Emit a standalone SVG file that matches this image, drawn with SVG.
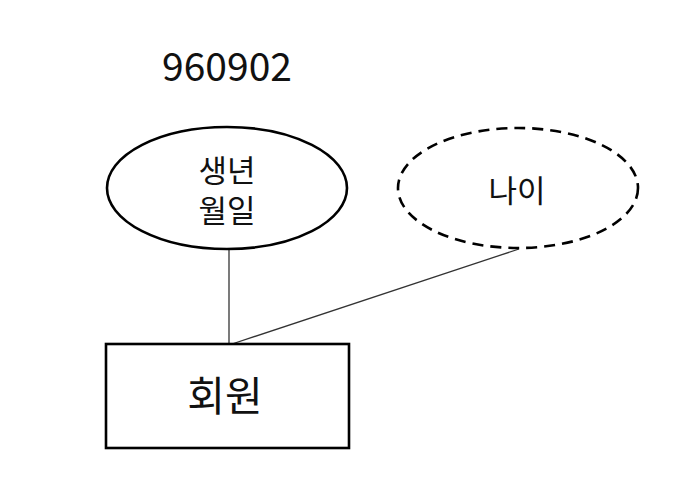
<svg xmlns="http://www.w3.org/2000/svg" width="673" height="479" viewBox="0 0 673 479">
<style>
text { font-family: "Noto Sans CJK KR", "Noto Sans", sans-serif; fill: #111; text-anchor: middle; font-weight: 400; }
.shape { fill: #fff; stroke: #000; stroke-width: 2.6; }
.dashed { stroke-dasharray: 11 7; }
.conn { stroke: #333; stroke-width: 1.3; fill: none; }
</style>
<rect width="673" height="479" fill="#fff"/>
<g id="connectors">
<line class="conn" x1="229" y1="249" x2="229" y2="344"/>
<line class="conn" x1="519" y1="249" x2="232" y2="344"/>
</g>
<g id="label-960902">
<text x="227" y="81" font-size="39">960902</text>
</g>
<g id="birthdate">
<ellipse class="shape" cx="227" cy="188" rx="120" ry="61"/>
<text x="227" y="182" font-size="31">생년</text>
<text x="227" y="222" font-size="31">월일</text>
</g>
<g id="age">
<ellipse class="shape dashed" cx="518" cy="188" rx="120" ry="60"/>
<text x="517" y="202" font-size="31">나이</text>
</g>
<g id="member">
<rect class="shape" x="106" y="344" width="243" height="104"/>
<text x="225" y="411" font-size="41">회원</text>
</g>
</svg>
